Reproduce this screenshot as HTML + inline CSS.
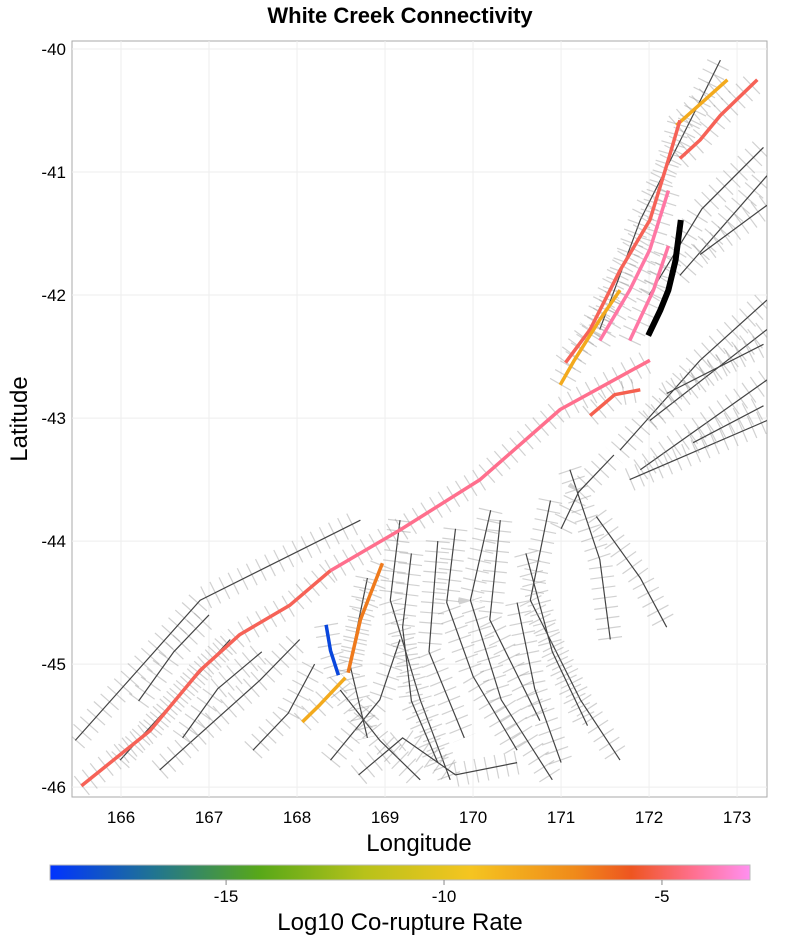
<!DOCTYPE html>
<html><head><meta charset="utf-8"><style>
body{margin:0;background:#fff;font-family:"Liberation Sans",sans-serif}
</style></head><body>
<svg id="chart" width="800" height="945" viewBox="0 0 800 945" xmlns="http://www.w3.org/2000/svg">
<defs>
<linearGradient id="cb" x1="0" x2="1" y1="0" y2="0">
<stop offset="0" stop-color="#0033ff"/><stop offset="0.15" stop-color="#217590"/>
<stop offset="0.3" stop-color="#58a818"/><stop offset="0.45" stop-color="#b8c21a"/>
<stop offset="0.6" stop-color="#f5c520"/><stop offset="0.75" stop-color="#f08a1a"/>
<stop offset="0.83" stop-color="#ee5520"/><stop offset="0.92" stop-color="#ff7090"/>
<stop offset="1" stop-color="#ff90f0"/></linearGradient>
<clipPath id="clip"><rect x="72" y="41" width="695" height="756"/></clipPath>
</defs>
<text x="400" y="23" text-anchor="middle" font-size="22" font-weight="bold">White Creek Connectivity</text>
<rect x="72" y="41" width="695" height="756" fill="#fff" stroke="#aaa"/>
<g id="grid"></g>
<g id="bg" clip-path="url(#clip)"></g>
<g id="ruptures" clip-path="url(#clip)"></g>
<g id="axes"></g>
<text x="419" y="851" text-anchor="middle" font-size="24">Longitude</text>
<text transform="translate(27,419) rotate(-90)" text-anchor="middle" font-size="24">Latitude</text>
<rect x="50" y="865" width="700" height="15" fill="url(#cb)" stroke="#bbb"/>
<g id="cbticks"></g>
<text x="400" y="930" text-anchor="middle" font-size="24">Log10 Co-rupture Rate</text>
</svg>
<script>
const xTicks=[166,167,168,169,170,171,172,173];
const yTicks=[-40,-41,-42,-43,-44,-45,-46];
const cbTicks=[-15,-10,-5];
const bgFaults=[
[[165.48,-45.62],[166.90,-44.48],[168.72,-43.83]],
[[165.99,-45.78],[167.24,-44.80]],
[[166.44,-45.86],[167.58,-45.13],[168.03,-44.80]],
[[166.2,-45.3],[166.6,-44.9],[167.0,-44.6]],
[[166.7,-45.6],[167.1,-45.2],[167.6,-44.9]],
[[167.5,-45.7],[167.9,-45.4],[168.2,-45.0]],
[[169.17,-43.83],[169.06,-44.48],[169.40,-45.29],[169.74,-45.94]],
[[170.20,-43.75],[169.97,-44.48],[170.32,-45.29],[170.90,-45.94]],
[[170.31,-43.83],[170.19,-44.64],[170.76,-45.46]],
[[170.88,-43.67],[170.65,-44.48],[171.22,-45.29],[171.67,-45.78]],
[[171.10,-43.42],[171.44,-44.15],[171.56,-44.80]],
[[168.49,-45.21],[168.94,-45.62],[169.40,-45.94]],
[[168.38,-45.78],[168.94,-45.29],[169.17,-44.80]],
[[169.6,-44.0],[169.5,-44.9],[169.9,-45.6]],
[[170.6,-44.1],[170.9,-44.9],[171.3,-45.5]],
[[168.8,-44.3],[168.6,-45.0],[168.8,-45.6]],
[[169.3,-44.1],[169.2,-44.7],[169.3,-45.3],[169.6,-45.8]],
[[169.8,-43.9],[169.7,-44.5],[170.0,-45.1],[170.5,-45.7]],
[[170.5,-44.5],[170.7,-45.2],[171.0,-45.8]],
[[171.4,-43.8],[171.9,-44.3],[172.2,-44.7]],
[[168.7,-45.9],[169.2,-45.6],[169.8,-45.9],[170.5,-45.8]],
[[171.67,-43.26],[172.58,-42.53],[173.34,-42.04]],
[[171.90,-43.42],[173.34,-42.69]],
[[172.01,-43.02],[173.34,-42.28]],
[[172.35,-41.84],[173.34,-41.03]],
[[172.58,-41.67],[173.34,-41.27]],
[[171.78,-43.50],[173.34,-43.02]],
[[172.2,-42.8],[173.3,-42.4]],
[[172.5,-43.2],[173.3,-42.9]],
[[172.47,-40.58],[172.81,-40.09]],
[[171.44,-42.28],[171.90,-41.39],[172.47,-40.58]],
[[172.0,-42.0],[172.6,-41.3],[173.3,-40.8]],
[[171.0,-43.9],[171.2,-43.6],[171.6,-43.3]]
];
const ruptureTraces=[
[[165.55,-45.99],[166.33,-45.54],[166.90,-45.05],[167.35,-44.76],[167.92,-44.52],[168.38,-44.24]],
[[168.38,-44.24],[169.17,-43.91],[170.08,-43.50],[170.99,-42.93],[172.01,-42.53]],
[[168.33,-44.68],[168.38,-44.89],[168.47,-45.09]],
[[168.06,-45.47],[168.26,-45.33],[168.55,-45.11]],
[[168.58,-45.07],[168.72,-44.64],[168.97,-44.18]],
[[172.31,-40.62],[172.89,-40.25]],
[[172.35,-40.89],[172.58,-40.74],[172.81,-40.54],[173.23,-40.25]],
[[171.05,-42.55],[171.33,-42.28],[171.67,-41.80],[172.01,-41.39],[172.22,-40.90],[172.35,-40.58]],
[[170.99,-42.73],[171.15,-42.53],[171.44,-42.20],[171.67,-41.96]],
[[171.44,-42.37],[171.78,-41.96],[172.01,-41.63],[172.22,-41.15]],
[[171.78,-42.37],[172.05,-41.96],[172.22,-41.60]],
[[171.33,-42.98],[171.61,-42.81],[171.90,-42.77]]
];
const ruptureRates=[-5.0,-4.3,-18.3,-8.3,-6.6,-8.3,-5.0,-5.0,-8.3,-4.0,-4.0,-5.1];
const selectedFault=[[171.99,-42.33],[172.13,-42.12],[172.22,-41.96],[172.30,-41.72],[172.36,-41.39]];

const NS="http://www.w3.org/2000/svg";
const X0=72,X1=767,LON0=165.443,LON1=173.34;
const Y0=41,Y1=797,LAT0=-39.935,LAT1=-46.08;
const CB0=50,CB1=750,CBV0=-19.04,CBV1=-2.98;
const xs=v=>X0+(v-LON0)/(LON1-LON0)*(X1-X0);
const ys=v=>Y0+(v-LAT0)/(LAT1-LAT0)*(Y1-Y0);
const cs=v=>CB0+(v-CBV0)/(CBV1-CBV0)*(CB1-CB0);
function mk(t,parent,attrs){const e=document.createElementNS(NS,t);for(const k in attrs)e.setAttribute(k,attrs[k]);parent.appendChild(e);return e;}
const stops=[[0,[0,51,255]],[0.15,[33,117,144]],[0.3,[88,168,24]],[0.45,[184,194,26]],[0.6,[245,197,32]],[0.75,[240,138,26]],[0.83,[238,85,32]],[0.92,[255,112,144]],[1,[255,144,240]]];
function color(v){let t=Math.max(0,Math.min(1,(v-CBV0)/(CBV1-CBV0)));for(let i=1;i<stops.length;i++){if(t<=stops[i][0]){const a=stops[i-1],b=stops[i];const f=(t-a[0])/(b[0]-a[0]);const c=a[1].map((x,j)=>Math.round(x+(b[1][j]-x)*f));return `rgb(${c})`;}}return 'rgb(255,144,240)';}
const pts=a=>a.map(p=>xs(p[0]).toFixed(1)+','+ys(p[1]).toFixed(1)).join(' ');
const grid=document.getElementById('grid'),axes=document.getElementById('axes');
xTicks.forEach(v=>{
const l=mk('line',grid,{x1:xs(v),x2:xs(v),y1:Y0,y2:Y1,stroke:'#eee'});


const t=mk('text',axes,{x:xs(v),y:823,'text-anchor':'middle','font-size':17});t.textContent=v;


});
yTicks.forEach(v=>{
const l=mk('line',grid,{x1:X0,x2:X1,y1:ys(v),y2:ys(v),stroke:'#eee'});


const t=mk('text',axes,{x:66,y:ys(v)+6,'text-anchor':'end','font-size':17});t.textContent=v;


});
const bg=document.getElementById('bg');
function hatch(f){
const w=mk('polyline',bg,{points:pts(f),fill:'none',stroke:'#999','stroke-width':24,'stroke-opacity':0.45,'stroke-dasharray':'1.2 9'});


}
bgFaults.forEach(f=>{hatch(f);
const l=mk('polyline',bg,{points:pts(f),fill:'none',stroke:'#444','stroke-width':1.2});


});
ruptureTraces.forEach(f=>hatch(f));
const rg=document.getElementById('ruptures');
ruptureTraces.forEach((f,i)=>{
const l=mk('polyline',rg,{points:pts(f),fill:'none',stroke:color(ruptureRates[i]),'stroke-width':3.5,'stroke-linejoin':'round'});


});
const s=mk('polyline',rg,{points:pts(selectedFault),fill:'none',stroke:'#000','stroke-width':6,'stroke-linejoin':'round'});


const cbt=document.getElementById('cbticks');
cbTicks.forEach(v=>{
const l=mk('line',cbt,{x1:cs(v),x2:cs(v),y1:880,y2:885,stroke:'#888'});


const t=mk('text',cbt,{x:cs(v),y:902,'text-anchor':'middle','font-size':17});t.textContent=v;


});
</script>
</body></html>
